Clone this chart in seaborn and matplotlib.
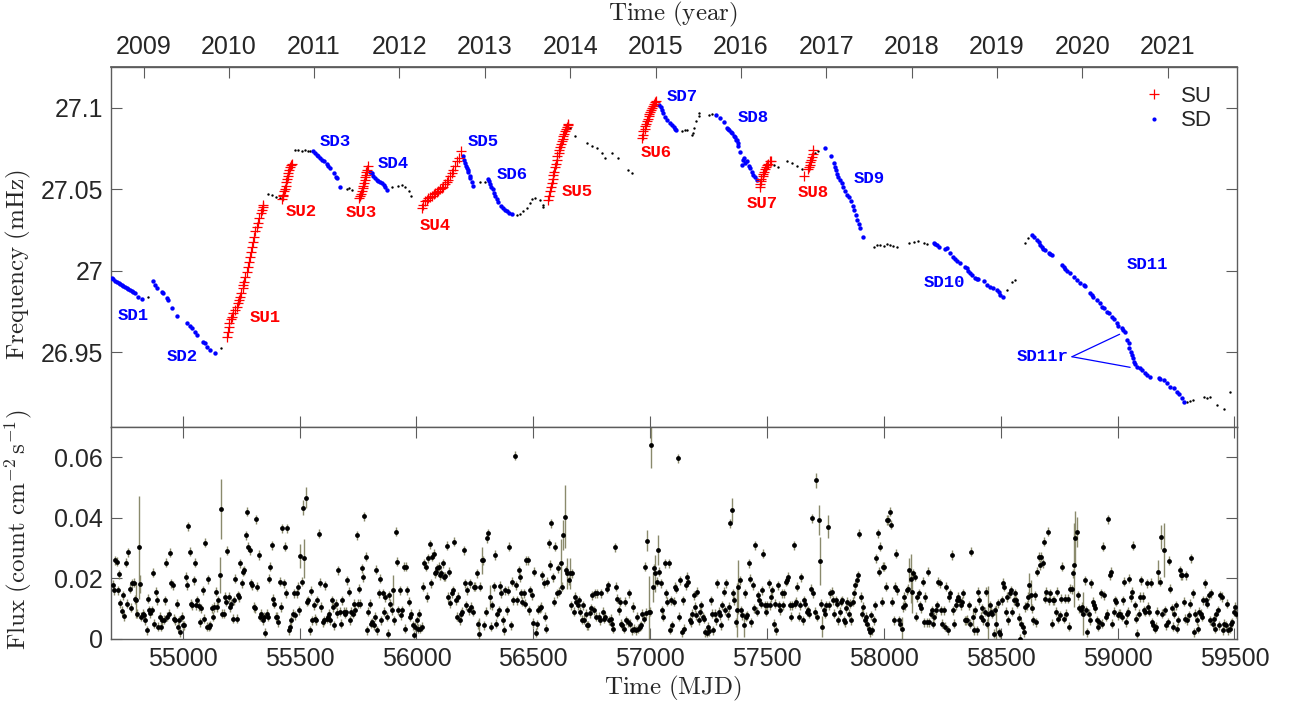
import numpy as np
import pandas as pd
import matplotlib
matplotlib.use("Agg")
import matplotlib.pyplot as plt
from matplotlib.lines import Line2D
import seaborn as sns

# ---------------------------------------------------------------- spin frequency
# spin-up intervals (MJD, mHz)
su_mjd = [55188, 55193, 55197, 55199, 55205, 55211, 55217, 55224, 55231, 55235, 55241, 55245,
          55251, 55257, 55259, 55264, 55268, 55274, 55278, 55282, 55288, 55292, 55297, 55302,
          55306, 55311, 55317, 55322, 55328, 55334, 55338, 55342, 55345,
          55424, 55428, 55431, 55435, 55438, 55441, 55443, 55446, 55449, 55452, 55455, 55459, 55462, 55467,
          55756, 55760, 55763, 55767, 55770, 55773, 55776, 55779, 55780, 55783, 55785, 55788, 55792,
          56023, 56030, 56037, 56044, 56051, 56058, 56066, 56073, 56080, 56087, 56094, 56101,
          56109, 56115, 56123, 56130, 56137, 56144, 56151, 56158, 56165, 56173, 56180, 56190,
          56565, 56569, 56572, 56576, 56579, 56584, 56586, 56589, 56593, 56596, 56601, 56603,
          56608, 56611, 56615, 56618, 56622, 56625, 56629, 56632, 56636, 56641, 56644, 56648, 56650,
          56965, 56969, 56971, 56976, 56979, 56983, 56986, 56990, 56993, 56997, 57000, 57004,
          57007, 57012, 57017, 57021, 57026,
          57468, 57471, 57474, 57476, 57481, 57485, 57488, 57492, 57497, 57502, 57506, 57514, 57517,
          57659, 57675, 57678, 57682, 57685, 57688, 57692, 57696, 57699]
su_freq = [26.9596, 26.9627, 26.9658, 26.9678, 26.9703, 26.9719, 26.9740, 26.9760, 26.9781, 26.9801,
           26.9822, 26.9842, 26.9863, 26.9894, 26.9914, 26.9934, 26.9965, 26.9996, 27.0026, 27.0057,
           27.0088, 27.0119, 27.0149, 27.0180, 27.0211, 27.0242, 27.0269, 27.0293, 27.0324, 27.0355,
           27.0375, 27.0395, 27.0406,
           27.0441, 27.0457, 27.0467, 27.0488, 27.0502, 27.0523, 27.0543, 27.0564, 27.0584, 27.0601,
           27.0617, 27.0638, 27.0650, 27.0658,
           27.0447, 27.0461, 27.0473, 27.0492, 27.0508, 27.0523, 27.0539, 27.0559, 27.0576, 27.0590,
           27.0604, 27.0621, 27.0641,
           27.0385, 27.0406, 27.0426, 27.0437, 27.0447, 27.0455, 27.0461, 27.0469, 27.0478, 27.0486,
           27.0492, 27.0500, 27.0508, 27.0518, 27.0533, 27.0545, 27.0559, 27.0580, 27.0601, 27.0621,
           27.0646, 27.0672, 27.0693, 27.0733,
           27.0437, 27.0461, 27.0488, 27.0515, 27.0539, 27.0564, 27.0590, 27.0610, 27.0638, 27.0658,
           27.0682, 27.0703, 27.0724, 27.0744, 27.0760, 27.0779, 27.0795, 27.0810, 27.0826, 27.0840,
           27.0856, 27.0871, 27.0883, 27.0893, 27.0902,
           27.0816, 27.0836, 27.0856, 27.0871, 27.0887, 27.0904, 27.0918, 27.0933, 27.0949, 27.0961,
           27.0973, 27.0986, 27.1000, 27.1010, 27.1027, 27.1035, 27.1041,
           27.0518, 27.0535, 27.0549, 27.0564, 27.0580, 27.0596, 27.0610, 27.0625, 27.0638, 27.0647,
           27.0658, 27.0672, 27.0672,
           27.0580, 27.0625, 27.0638, 27.0652, 27.0666, 27.0682, 27.0699, 27.0719, 27.0740]

# spin-down intervals (MJD, mHz)
sd_mjd = [54696, 54703, 54710, 54718, 54725, 54732, 54739, 54746, 54753, 54760, 54767, 54775,
          54782, 54789, 54796, 54810, 54825,
          54874, 54881, 54889, 54910, 54917, 54932, 54938, 54953, 54977, 55020, 55031, 55039,
          55053, 55060, 55088, 55095, 55103, 55117, 55138,
          55559, 55566, 55574, 55580, 55588, 55595, 55605, 55616, 55623, 55630, 55645, 55656, 55662, 55673,
          55802, 55809, 55816, 55823, 55830, 55837, 55844, 55852, 55859, 55867, 55876,
          56198, 56204, 56208, 56213, 56216, 56220, 56222, 56227, 56230, 56237, 56244,
          56304, 56310, 56315, 56321, 56327, 56332, 56337, 56344, 56351, 56361, 56372, 56381,
          56389, 56398, 56408,
          57040, 57046, 57050, 57057, 57064, 57072, 57086, 57093, 57100, 57107, 57111,
          57283, 57300, 57314, 57331, 57335, 57339, 57345, 57350, 57357, 57364, 57368, 57371,
          57374, 57378, 57385, 57393, 57399, 57402, 57407, 57414, 57421, 57428, 57435, 57442, 57450, 57457,
          57749, 57773, 57785, 57789, 57795, 57799, 57806, 57813, 57820, 57827, 57835, 57842,
          57849, 57859, 57866, 57873, 57880, 57887, 57892, 57899, 57910,
          58213, 58220, 58227, 58234, 58263, 58270, 58284, 58298, 58305, 58313, 58327, 58348,
          58356, 58362, 58367, 58377, 58391, 58398, 58405, 58427, 58441, 58455, 58469, 58484,
          58491, 58498, 58510,
          58634, 58641, 58655, 58662, 58669, 58677, 58683, 58691, 58705, 58712, 58719, 58762,
          58769, 58776, 58784, 58798, 58812, 58826, 58840, 58855, 58862, 58883, 58891, 58897,
          58912, 58926, 58933, 58943, 58955, 58962, 58976, 58983, 58998, 59004, 59019, 59023, 59033,
          59040, 59047, 59051, 59058, 59062, 59066, 59072, 59076, 59083, 59097, 59105, 59119,
          59126, 59140, 59176, 59183, 59197, 59212, 59226, 59240, 59254, 59261, 59276, 59286]
sd_freq = [26.9955, 26.9949, 26.9940, 26.9932, 26.9924, 26.9918, 26.9912, 26.9906, 26.9900, 26.9894,
           26.9887, 26.9881, 26.9875, 26.9869, 26.9863, 26.9842, 26.9826,
           26.9939, 26.9914, 26.9894, 26.9873, 26.9863, 26.9832, 26.9822, 26.9771, 26.9723, 26.9678,
           26.9662, 26.9648, 26.9623, 26.9607, 26.9565, 26.9556, 26.9535, 26.9514, 26.9494,
           27.0738, 27.0724, 27.0713, 27.0703, 27.0693, 27.0682, 27.0672, 27.0658, 27.0646, 27.0631,
           27.0601, 27.0576, 27.0570, 27.0518,
           27.0610, 27.0601, 27.0584, 27.0570, 27.0559, 27.0551, 27.0543, 27.0537, 27.0529, 27.0515, 27.0498,
           27.0703, 27.0682, 27.0662, 27.0646, 27.0631, 27.0617, 27.0604, 27.0584, 27.0570, 27.0543, 27.0523,
           27.0564, 27.0549, 27.0533, 27.0518, 27.0502, 27.0481, 27.0461, 27.0441, 27.0420, 27.0400,
           27.0385, 27.0375, 27.0365, 27.0357, 27.0350,
           27.1021, 27.1006, 27.0990, 27.0970, 27.0945, 27.0928, 27.0908, 27.0896, 27.0883, 27.0873, 27.0867,
           27.0959, 27.0939, 27.0912, 27.0877, 27.0871, 27.0863, 27.0850, 27.0847, 27.0830, 27.0822,
           27.0805, 27.0805, 27.0785, 27.0764, 27.0727, 27.0652, 27.0682, 27.0693, 27.0662, 27.0672,
           27.0646, 27.0631, 27.0610, 27.0590, 27.0576, 27.0559,
           27.0754, 27.0703, 27.0662, 27.0638, 27.0617, 27.0596, 27.0576, 27.0559, 27.0539, 27.0515,
           27.0488, 27.0467, 27.0453, 27.0426, 27.0400, 27.0375, 27.0344, 27.0314, 27.0289, 27.0263, 27.0211,
           27.0174, 27.0166, 27.0156, 27.0149, 27.0133, 27.0140, 27.0109, 27.0088, 27.0072, 27.0063,
           27.0047, 27.0026, 27.0017, 27.0002, 26.9990, 26.9975, 26.9955, 26.9949, 26.9949, 26.9940,
           26.9914, 26.9900, 26.9894, 26.9883, 26.9873, 26.9852, 26.9842,
           27.0221, 27.0211, 27.0191, 27.0180, 27.0160, 27.0149, 27.0133, 27.0129, 27.0109, 27.0103,
           27.0098, 27.0037, 27.0026, 27.0012, 27.0002, 26.9986, 26.9965, 26.9945, 26.9924, 26.9914,
           26.9908, 26.9863, 26.9852, 26.9838, 26.9822, 26.9801, 26.9781, 26.9771, 26.9750, 26.9740,
           26.9719, 26.9703, 26.9678, 26.9662, 26.9648, 26.9637, 26.9627,
           26.9576, 26.9556, 26.9525, 26.9504, 26.9484, 26.9463, 26.9442, 26.9428, 26.9412, 26.9402,
           26.9391, 26.9371, 26.9361, 26.9346, 26.9340, 26.9336, 26.9330, 26.9310, 26.9289, 26.9279,
           26.9258, 26.9242, 26.9217, 26.9196]

# remaining, unclassified measurements
other_mjd = [54853, 55163, 55366, 55382, 55399, 55416, 55481, 55495, 55509, 55523, 55538, 55545,
             55702, 55712, 55723, 55895, 55923, 55937, 55951, 55966, 55976, 56272, 56294,
             56430, 56444, 56458, 56472, 56486, 56496, 56508, 56528, 56541, 56543,
             56658, 56679, 56729, 56751, 56772, 56793, 56807, 56836, 56864, 56907, 56922,
             57136, 57150, 57157, 57179, 57183, 57188, 57197, 57207, 57211, 57250, 57264,
             57528, 57549, 57585, 57607, 57628, 57649, 57706, 57720,
             57956, 57970, 57984, 57999, 58013, 58027, 58041, 58056, 58106, 58127, 58148, 58170, 58184,
             58527, 58548, 58562, 58605, 58619,
             59297, 59311, 59325, 59368, 59383, 59397, 59426, 59454, 59482]
other_freq = [26.9842, 26.9528, 27.0473, 27.0464, 27.0455, 27.0447, 27.0740, 27.0744, 27.0736, 27.0742,
              27.0738, 27.0733, 27.0502, 27.0507, 27.0498, 27.0515, 27.0523, 27.0529, 27.0518, 27.0488,
              27.0461, 27.0543, 27.0547,
              27.0344, 27.0350, 27.0365, 27.0385, 27.0416, 27.0441, 27.0447, 27.0437, 27.0406, 27.0395,
              27.0877, 27.0826, 27.0785, 27.0764, 27.0754, 27.0724, 27.0693, 27.0724, 27.0693, 27.0621, 27.0601,
              27.0856, 27.0863, 27.0867, 27.0836, 27.0847, 27.0877, 27.0918, 27.0953, 27.0970, 27.0959, 27.0963,
              27.0652, 27.0638, 27.0672, 27.0662, 27.0646, 27.0625, 27.0724, 27.0733,
              27.0149, 27.0158, 27.0156, 27.0152, 27.0166, 27.0158, 27.0154, 27.0149, 27.0174, 27.0180,
              27.0186, 27.0174, 27.0164,
              26.9883, 26.9934, 26.9945, 27.0174, 27.0201,
              26.9196, 26.9201, 26.9207, 26.9227, 26.9219, 26.9223, 26.9176, 26.9150, 26.9258]

# interval labels: (text, MJD, mHz)
su_labels = [("SU1", 55352, 26.9711), ("SU2", 55509, 27.0365), ("SU3", 55763, 27.0361),
             ("SU4", 56080, 27.0277), ("SU5", 56688, 27.0488), ("SU6", 57025, 27.0724),
             ("SU7", 57479, 27.0416), ("SU8", 57700, 27.0482)]
sd_labels = [("SD1", 54787, 26.9729), ("SD2", 54996, 26.9473), ("SD3", 55652, 27.0795),
             ("SD4", 55901, 27.0662), ("SD5", 56285, 27.0795), ("SD6", 56409, 27.0590),
             ("SD7", 57136, 27.1072), ("SD8", 57440, 27.0939), ("SD9", 57937, 27.0570),
             ("SD10", 58258, 26.9926), ("SD11", 59127, 27.0037)]
sd11r_text = (58678, 26.9473)
sd11r_bounds = [(59009, 26.9611), (59054, 26.9408)]

# ---------------------------------------------------------------- weekly flux (1e-3 count cm^-2 s^-1)
flux_a = [17.9, 16.1, 26.0, 25.5, 16.1, 21.4, 11.8, 9.2, 14.4, 7.4, 25.1, 11.6, 28.6, 16.6, 10.3, 18.3,
          18.5, 13.0, 12.7, 8.3, 30.2, 18.1, 7.2, 8.3, 7.8, 6.1, 2.8, 13.3, 9.4, 8.5, 9.4, 21.8, 5.0,
          15.5, 12.7, 3.9, 7.2, 3.9, 6.1, 6.3, 12.7, 25.1, 7.2, 8.3, 28.5, 18.3, 17.7, 6.6, 6.1, 11.6,
          3.9, 6.1, 2.2, 7.2, 4.4, 4.4, 20.5, 17.7, 37.3, 28.8, 11.6, 11.1, 19.4, 25.1, 11.1, 12.7,
          10.7, 5.5, 10.0, 16.1, 6.6, 31.8, 3.9, 19.6, 3.9, 4.4, 10.0, 7.2, 10.5, 15.5, 10.5, 12.7,
          21.0, 42.9, 8.3, 8.3, 13.8, 12.2, 29.1, 13.8, 10.5, 11.6, 6.6, 12.7, 19.9, 6.6, 14.4, 13.8,
          24.9, 18.3, 22.1, 22.7, 34.3, 42.1, 30.5, 29.3, 18.3, 17.7, 10.5, 10.0, 39.5, 17.2, 27.7,
          7.2, 8.3, 6.1, 7.2, 2.0, 8.3, 7.2, 19.9, 23.8, 31.0, 13.3, 11.6, 7.2, 7.2, 5.5, 18.8, 10.5,
          36.5, 18.3, 30.5, 15.0, 36.5, 2.8, 3.9, 6.1, 8.3, 15.0, 7.8, 15.0, 17.2, 9.4, 27.4, 18.8,
          43.4, 26.6, 46.7, 12.2, 12.7, 2.8, 15.8, 6.1, 11.1, 6.6, 6.1, 12.7, 34.7, 18.6, 10.5, 5.5,
          6.1, 17.7, 6.6, 7.2, 8.3, 6.1, 12.7, 10.5, 4.4, 11.6, 8.5, 22.7, 8.9, 5.0, 12.7, 8.9, 8.3,
          8.9, 19.4, 15.5, 6.1, 8.9, 8.3, 11.6, 9.4, 34.3, 11.6, 16.6, 11.6, 23.3, 20.3, 40.6, 27.1,
          2.8, 8.9, 11.6, 5.0, 5.5, 4.4, 7.2, 22.9, 2.8, 15.0, 19.9, 6.1, 15.0, 8.9, 13.8, 7.2, 1.7,
          14.4, 11.6, 9.4, 16.1, 6.1, 35.4, 25.5, 9.4, 16.1, 7.8, 9.4, 23.8, 3.3, 23.8, 16.1, 12.2,
          7.2, 8.3, 4.4, 1.1, 3.9, 6.1, 3.3, 8.3, 3.3, 3.9, 17.2, 24.9, 23.8, 13.8, 26.6, 31.3, 18.3,
          27.1, 28.2, 21.6, 22.1, 23.3, 23.8, 21.0, 21.6, 24.9, 20.5, 20.7, 30.7, 13.8, 22.1, 11.8,
          15.0, 16.1, 32.1, 12.7, 7.2, 13.8, 6.1, 8.3, 8.9, 29.3, 18.3, 11.1, 16.1, 9.4, 18.3, 10.5,
          8.9, 17.2, 17.2, 21.6, 4.8, 1.7, 17.2, 26.0, 26.0, 4.4, 8.9, 33.2, 34.9, 13.8, 3.9, 11.1,
          17.4, 27.7, 5.0, 8.3, 9.4]
flux_b = [17.5, 15.0, 6.1, 2.8, 16.1, 9.4, 15.8, 30.5, 4.4, 18.8, 12.7, 60.6, 17.7, 12.7, 22.7, 20.3,
          15.0, 12.2, 15.0, 11.6, 26.0, 26.0, 9.4, 16.1, 14.4, 5.2, 22.1, 1.9, 4.8, 9.6, 10.0, 10.5,
          21.0, 18.3, 7.2, 3.3, 18.8, 31.6, 24.4, 38.2, 20.3, 12.2, 30.5, 15.0, 23.3, 15.5, 25.1, 17.2,
          34.3, 40.4, 22.7, 21.6, 19.4, 21.6, 11.1, 21.6, 8.9, 13.8, 12.2, 11.1, 12.7, 8.9, 6.3, 11.1,
          6.3, 8.3, 4.4, 4.4, 8.5, 10.0, 14.4, 9.4, 15.0, 7.2, 15.0, 7.2, 6.1, 15.0, 8.9, 6.6, 7.2,
          16.6, 17.7, 6.1, 6.6, 5.0, 3.3, 30.2, 17.2, 13.3, 9.4, 12.2, 5.0, 4.4, 3.3, 12.2, 6.1, 5.5,
          15.0, 5.0, 2.8, 10.5, 3.3, 2.8, 7.2, 3.3, 3.9, 4.4, 8.3, 6.6, 23.8, 8.5, 32.4, 8.9, 8.9,
          64.2, 17.2, 23.3, 21.6, 18.8, 29.3, 22.1, 18.3, 9.4, 7.2, 24.9, 15.0, 12.2, 24.9, 3.0, 12.7,
          4.4, 12.2, 17.2, 16.6, 59.8, 7.2, 19.4, 2.2, 12.7, 3.3, 17.7, 20.5, 18.8, 6.1, 5.5, 8.3,
          14.4, 10.5, 7.8, 15.5, 6.1, 8.9, 11.1, 7.2, 6.6, 2.2, 1.9, 3.9, 2.5, 12.7, 8.3, 2.8, 8.3,
          6.1, 18.3, 8.9, 7.8, 4.4, 11.1, 15.5, 9.4, 18.3, 7.8, 10.5, 38.2, 42.6, 15.0, 12.7, 5.5,
          9.4, 17.2, 19.4, 9.4, 7.8, 4.4, 15.0, 7.2, 7.8, 24.9, 19.9, 5.5, 17.7, 10.0, 31.0, 8.9,
          14.4, 12.7, 11.6, 16.1, 28.2, 11.1, 8.9, 11.1, 18.3, 11.1, 13.8, 16.1, 5.0, 11.6, 2.8, 17.7,
          11.1, 9.4, 15.0, 11.1, 15.0, 18.8, 19.4, 20.5, 11.1, 7.2, 11.1, 31.0, 11.6, 12.2, 17.2, 7.2,
          11.1, 20.3, 6.1, 12.7, 11.6, 8.9, 9.4, 8.3, 16.6, 39.9, 15.0, 8.9, 52.4, 7.2, 39.3, 25.8,
          11.6, 3.9, 9.4, 8.3, 11.1, 37.1, 11.1, 15.0, 15.5, 12.7, 8.3, 12.7, 11.6, 6.1, 8.9, 12.2,
          12.7, 6.1, 5.5, 10.0, 12.2, 8.3, 11.6, 6.1, 12.2, 15.0, 17.7, 19.4, 21.0, 34.7, 13.8, 8.3,
          10.5, 6.1, 7.2, 5.0, 3.3, 2.2, 7.8, 2.8, 6.1, 11.1, 26.6, 34.9, 22.1, 30.5, 12.2, 23.8,
          23.8, 17.2, 39.3, 39.3, 42.1, 37.7, 12.2, 6.1, 17.2, 28.2, 16.1, 6.1]
flux_c = [5.0, 3.3, 10.5, 13.8, 11.1, 16.1, 16.6, 22.7, 19.9, 15.5, 21.6, 20.5, 7.2, 13.8, 15.0, 11.1,
          10.0, 18.8, 5.5, 13.8, 5.5, 22.1, 5.5, 8.3, 9.4, 5.0, 7.2, 9.4, 11.1, 18.8, 18.3, 9.4, 5.0,
          9.4, 3.9, 17.2, 2.8, 13.8, 15.0, 27.7, 9.4, 5.0, 11.1, 12.7, 13.8, 12.7, 11.1, 12.2, 15.0,
          6.1, 6.1, 6.3, 11.1, 5.0, 28.8, 7.2, 2.8, 9.4, 2.8, 15.5, 12.7, 7.2, 10.0, 6.1, 8.9, 15.5,
          5.0, 8.3, 11.1, 8.9, 8.3, 1.7, 9.4, 5.0, 11.8, 2.2, 1.7, 12.7, 18.5, 17.2, 8.9, 13.8, 6.1,
          15.0, 16.1, 8.9, 12.7, 15.0, 12.7, 11.6, 7.0, 0.0, 5.0, 3.9, 2.2, 10.5, 11.1, 13.8, 17.7,
          14.4, 10.0, 6.1, 14.4, 5.5, 22.1, 27.1, 24.4, 27.1, 24.9, 32.1, 13.3, 15.5, 35.4, 12.7, 15.0,
          5.0, 12.7, 12.7, 8.9, 15.5, 6.6, 7.8, 13.3, 23.8, 6.6, 13.3, 8.3, 13.3, 3.9, 16.6, 16.3,
          21.6, 24.4, 33.2, 35.4, 14.4, 10.0, 9.4, 10.5, 8.3, 19.4, 9.4, 2.2, 8.3, 6.1, 18.3, 12.2,
          11.1, 10.0, 6.1, 3.9, 5.5, 15.0, 5.0, 30.5, 14.4, 7.2, 8.3, 39.6, 21.0, 22.1, 5.0, 8.9, 12.7,
          12.2, 7.8, 8.3, 8.3, 7.2, 12.7, 18.8, 5.5, 8.3, 8.9, 19.9, 13.8, 15.5, 30.7, 11.1, 6.6, 1.7,
          8.3, 13.8, 19.4, 13.8, 9.4, 8.9, 18.3, 10.5, 8.9, 18.5, 5.5, 4.4, 3.3, 3.9, 8.9, 22.1, 18.8,
          33.8, 8.3, 29.3, 9.4, 4.4, 5.5, 25.8, 16.6, 10.0, 3.9, 8.3, 11.1, 3.3, 6.1, 22.7, 21.0, 21.0,
          12.2, 6.6, 21.0, 6.1, 7.8, 11.6, 26.6, 15.0, 2.2, 8.3, 6.1, 3.3, 8.9, 8.3, 7.2, 12.7, 18.3,
          12.7, 11.6, 14.4, 6.1, 15.0, 5.0, 6.6, 3.3, 8.3, 9.4, 4.4, 14.4, 13.8, 2.8, 5.0, 4.4, 11.6,
          2.8, 3.3, 5.0, 5.5, 8.9, 10.5, 8.3]
# time spans covered by each run of regular bins (MJD)
flux_spans = [(54700, 56352), (56358, 58064), (58070, 59508)]
# typical 1-sigma uncertainty, and the bins with larger ones: MJD, flux of that bin, sigma (1e-3 units)
flux_err_typical = 1.5
wide_err_mjd = [54790, 54803, 54810, 55162, 55168, 55511, 55522, 55528, 55531, 55904, 56267, 56284,
                56312, 56618, 56629, 56632, 56649, 56660, 56980, 56986, 56997, 57003, 57009, 57020,
                57334, 57340, 57368, 57380, 57391, 57702, 57713, 57716, 57728, 57749, 58077, 58105,
                58110, 58115, 58369, 58455, 58472, 58615, 58637, 58809, 58814, 58820, 58849, 59171,
                59182, 59194]
wide_err_flux = [12.7, 30.2, 18.1, 21.0, 42.9, 27.4, 43.4, 26.6, 46.7, 16.1, 1.7, 26.0, 13.8, 25.1,
                 34.3, 40.4, 21.6, 21.6, 32.4, 8.9, 64.2, 17.2, 21.6, 29.3, 38.2, 42.6, 17.2, 9.4, 4.4,
                 52.4, 39.3, 25.8, 3.9, 37.1, 3.3, 22.7, 19.9, 15.5, 7.2, 8.3, 5.0, 17.7, 14.4, 24.4,
                 33.2, 35.4, 8.3, 22.1, 33.8, 29.3]
wide_err_val = [6, 17, 3, 6, 10, 4, 2.5, 6.5, 3.5, 5, 5, 4.5, 4, 8, 5, 10.5, 5, 5, 3.5, 12, 7.7, 5, 6,
                5, 1.5, 3.9, 9, 9, 4, 2.5, 5, 8, 3.5, 3.9, 4, 4, 8, 7, 3, 9, 6, 4, 5, 14, 9, 5, 7, 4,
                4, 9]

# axis ticks
year_mjd = [54832, 55197, 55562, 55927, 56293, 56658, 57023, 57388, 57754, 58119, 58484, 58849, 59215]
year_lab = ["2009", "2010", "2011", "2012", "2013", "2014", "2015", "2016", "2017", "2018", "2019",
            "2020", "2021"]
mjd_ticks = [55000, 55500, 56000, 56500, 57000, 57500, 58000, 58500, 59000, 59500]
freq_ticks = [26.95, 27.0, 27.05, 27.1]
freq_tick_lab = ["26.95", "27", "27.05", "27.1"]
flux_ticks = [0, 0.02, 0.04, 0.06]
flux_tick_lab = ["0", "0.02", "0.04", "0.06"]

# ---------------------------------------------------------------- tables
freq_df = pd.concat([
    pd.DataFrame({"mjd": su_mjd, "freq": su_freq, "phase": "SU"}),
    pd.DataFrame({"mjd": sd_mjd, "freq": sd_freq, "phase": "SD"}),
    pd.DataFrame({"mjd": other_mjd, "freq": other_freq, "phase": "other"}),
], ignore_index=True)

flux_parts = []
for (t0, t1), vals in zip(flux_spans, [flux_a, flux_b, flux_c]):
    flux_parts.append(pd.DataFrame({"mjd": np.linspace(t0, t1, len(vals)),
                                    "flux": np.asarray(vals) * 1e-3}))
flux_df = pd.concat(flux_parts, ignore_index=True)
flux_df["err"] = flux_err_typical * 1e-3
# attach each larger uncertainty to the bin it belongs to (close in time, same flux level)
for t, f, e in zip(wide_err_mjd, wide_err_flux, wide_err_val):
    near = flux_df[(flux_df["mjd"] - t).abs() < 14]
    idx = (near["flux"] - f * 1e-3).abs().idxmin()
    flux_df.loc[idx, "err"] = e * 1e-3

# ---------------------------------------------------------------- style
sns.set_theme(style="ticks")
plt.rcParams["font.family"] = ["Liberation Sans", "DejaVu Sans"]
plt.rcParams["mathtext.fontset"] = "cm"
frame_col = "#5c5c5c"
tick_fs = 18

fig = plt.figure(figsize=(12.92, 7.08), dpi=100)
ax_f = fig.add_axes([0.0863, 0.3965, 0.8709, 0.5085])
ax_x = fig.add_axes([0.0863, 0.0979, 0.8709, 0.2986], sharex=ax_f)

xlim = (54695, 59510)

# ---- frequency panel
sns.scatterplot(data=freq_df[freq_df.phase == "other"], x="mjd", y="freq", ax=ax_f,
                color="black", marker="o", s=3, linewidth=0, legend=False, zorder=2)
sns.scatterplot(data=freq_df[freq_df.phase == "SD"], x="mjd", y="freq", ax=ax_f,
                color="#0000ff", marker="o", s=10, linewidth=0, legend=False, zorder=3)
sns.scatterplot(data=freq_df[freq_df.phase == "SU"], x="mjd", y="freq", ax=ax_f,
                color="#ff0000", marker="+", s=45, linewidth=0.9, legend=False, zorder=4)

mono = dict(family="Liberation Mono", fontweight="bold", fontsize=12.5, ha="center", va="center")
for txt, x, y in su_labels:
    ax_f.text(x, y, txt, color="#ff0000", **mono)
for txt, x, y in sd_labels:
    ax_f.text(x, y, txt, color="#0000ff", **mono)
ax_f.text(sd11r_text[0], sd11r_text[1], "SD11r", color="#0000ff", **mono)
for bx, by in sd11r_bounds:
    ax_f.annotate("", xy=(bx, by), xytext=(sd11r_text[0] + 127, sd11r_text[1]),
                  arrowprops=dict(arrowstyle="-", color="#0000ff", lw=0.9, shrinkA=0, shrinkB=0))

ax_f.set_xlim(*xlim)
ax_f.set_ylim(26.904, 27.125)
ax_f.set_yticks(freq_ticks)
ax_f.set_yticklabels(freq_tick_lab)
ax_f.set_xticks(mjd_ticks)
ax_f.tick_params(axis="x", which="both", bottom=True, top=False, labelbottom=False,
                 direction="in", length=8, width=0.8, color=frame_col)
ax_f.tick_params(axis="y", left=True, right=True, direction="in", length=8, width=0.8,
                 color=frame_col, labelsize=tick_fs, labelcolor="#262626", pad=6)
ax_f.set_xlabel("")
ax_f.set_ylabel("")

top = ax_f.secondary_xaxis("top")
top.set_xticks(year_mjd)
top.set_xticklabels(year_lab)
top.tick_params(direction="in", length=8, width=0.8, color=frame_col, labelsize=tick_fs,
                labelcolor="#262626", pad=6)
top.spines["top"].set_color(frame_col)

handles = [Line2D([], [], ls="none", marker="+", color="#ff0000", ms=7, mew=0.9),
           Line2D([], [], ls="none", marker="o", color="#0000ff", ms=3, mew=0)]
ax_f.legend(handles, ["SU", "SD"], loc="upper right", frameon=False, fontsize=16,
            handlelength=1.0, handletextpad=0.7, labelspacing=0.15,
            bbox_to_anchor=(0.99, 0.985), borderaxespad=0.2)

# ---- flux panel
ax_x.errorbar(flux_df["mjd"], flux_df["flux"], yerr=flux_df["err"], fmt="none",
              ecolor="#8a8a6c", elinewidth=1.0, capsize=0, zorder=2)
sns.scatterplot(data=flux_df, x="mjd", y="flux", ax=ax_x, color="black", marker="o",
                s=12, linewidth=0, legend=False, zorder=3)
ax_x.set_xlim(*xlim)
ax_x.set_ylim(0, 0.07)
ax_x.set_xticks(mjd_ticks)
ax_x.set_xticklabels([str(t) for t in mjd_ticks])
ax_x.set_yticks(flux_ticks)
ax_x.set_yticklabels(flux_tick_lab)
ax_x.tick_params(axis="both", bottom=True, top=True, left=True, right=True, direction="in",
                 length=8, width=0.8, color=frame_col, labelsize=tick_fs, labelcolor="#262626", pad=6)
ax_x.set_xlabel("")
ax_x.set_ylabel("")

for ax in (ax_f, ax_x):
    for sp in ax.spines.values():
        sp.set_visible(True)
        sp.set_color(frame_col)
        sp.set_linewidth(1.0)

# axis titles
lab = dict(fontsize=18, ha="center", va="center", color="#262626")
fig.text(0.521, 0.979, r"$\mathrm{Time\ (year)}$", **lab)
fig.text(0.521, 0.028, r"$\mathrm{Time\ (MJD)}$", **lab)
fig.text(0.0139, 0.626, r"$\mathrm{Frequency\ (mHz)}$", rotation=90, **lab)
fig.text(0.0139, 0.2514, r"$\mathrm{Flux\ (count\ cm^{-2}\,s^{-1})}$", rotation=90, **lab)

fig.savefig("out.png", dpi=100)
